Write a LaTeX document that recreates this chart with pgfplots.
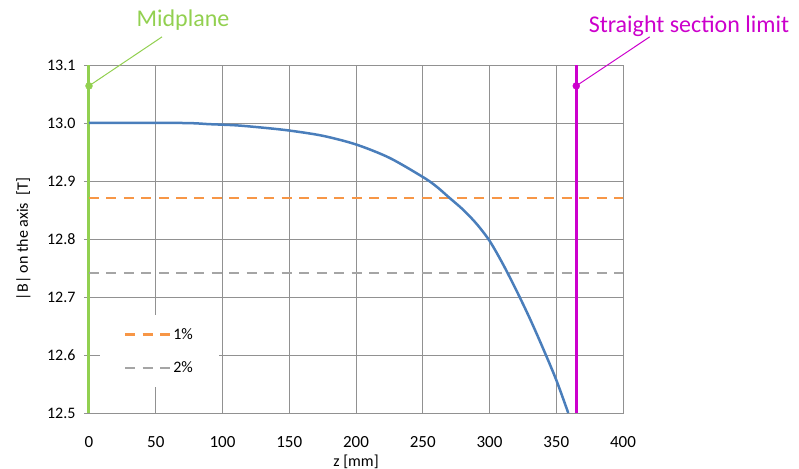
\documentclass[border=0pt]{standalone}
\usepackage{fontspec}
\setmainfont{Carlito}
\usepackage{pgfplots}
\pgfplotsset{compat=1.18}
\definecolor{cblue}{RGB}{74,126,187}
\definecolor{corange}{RGB}{247,150,70}
\definecolor{cgray}{RGB}{165,165,165}
\definecolor{cgreen}{RGB}{146,208,80}
\definecolor{cmag}{RGB}{204,0,204}
\definecolor{cgrid}{RGB}{145,145,145}
\begin{document}
\begin{tikzpicture}
\begin{axis}[
  at={(0,0)}, anchor=south west,
  scale only axis, width=534bp, height=348bp,
  xmin=0, xmax=400, ymin=12.5, ymax=13.1,
  xtick={0,50,...,400},
  ytick={12.5,12.6,12.7,12.8,12.9,13.0,13.1},
  grid=major,
  major grid style={cgrid, line width=1bp},
  axis line style={cgrid, line width=1bp},
  tick style={cgrid, line width=1bp},
  tick align=outside, tick pos=left,
  major tick length=5bp,
  xtick style={draw=none},
  clip=false,
  /pgf/number format/assume math mode=true,
  yticklabel style={/pgf/number format/fixed, /pgf/number format/fixed zerofill, /pgf/number format/precision=1,
    font=\fontsize{16bp}{19bp}\selectfont, text=black, anchor=east, xshift=-5bp},
  xticklabel style={/pgf/number format/fixed,
    font=\fontsize{17bp}{20bp}\selectfont, text=black, anchor=base, yshift=-29bp},
  xlabel={z [mm]},
  ylabel={|B| on the axis\ \ [T]},
  label style={font=\fontsize{16bp}{19bp}\selectfont},
  xlabel style={at={(axis description cs:0.5,0)}, anchor=base, yshift=-53bp},
  ylabel style={at={(axis description cs:0,0.5)}, anchor=south, yshift=55bp},
  legend style={at={(axis cs:8,12.669)}, anchor=north west, draw=none, fill=white,
    font=\fontsize{16bp}{19bp}\selectfont, row sep=17bp, inner xsep=24bp, inner ysep=11bp},
  legend cell align=left,
  legend image code/.code={\draw[#1] (0bp,0bp) -- (45bp,0bp);},
]
% midplane line
\addplot[cgreen, line width=3bp, forget plot] coordinates {(0,12.5) (0,13.1)};
% 1% and 2% levels
\addplot[corange, line width=2.5bp, dash pattern=on 10bp off 7.5bp] coordinates {(0,12.871) (400,12.871)};
\addlegendentry{1\%}
\addplot[cgray, line width=2.5bp, dash pattern=on 10bp off 7.5bp] coordinates {(0,12.741) (400,12.741)};
\addlegendentry{2\%}
% field on axis
\addplot[cblue, line width=2.5bp, smooth, tension=0.5, forget plot] coordinates {
(0,13.000) (70,13.000) (90,12.998) (110,12.996) (130,12.992) (150,12.987)
(175,12.978) (200,12.963) (225,12.940) (250,12.907) (260,12.891) (270,12.871)
(280,12.851) (290,12.827) (300,12.797) (310,12.757) (320,12.712) (330,12.664)
(340,12.612) (350,12.557) (359,12.500)};
% straight section limit
\addplot[cmag, line width=3bp, forget plot] coordinates {(365,12.5) (365,13.1)};
% callouts
\addplot[cgreen, line width=1bp, forget plot] coordinates {(0,13.064) (54.7,13.1485)};
\addplot[cgreen, only marks, mark=*, mark size=3.5bp, forget plot] coordinates {(0,13.064)};
\addplot[cmag, line width=1bp, forget plot] coordinates {(365,13.064) (420,13.1485)};
\addplot[cmag, only marks, mark=*, mark size=3.5bp, forget plot] coordinates {(365,13.064)};
\node[text=cgreen, font=\fontsize{24bp}{28bp}\selectfont] at (axis cs:70.4,13.178) {Midplane};
\node[text=cmag, font=\fontsize{24bp}{28bp}\selectfont] at (axis cs:449.4,13.166) {Straight section limit};
\end{axis}
\pgfresetboundingbox
\useasboundingbox (-89bp,-56bp) rectangle (710bp,413bp);
\end{tikzpicture}
\end{document}
